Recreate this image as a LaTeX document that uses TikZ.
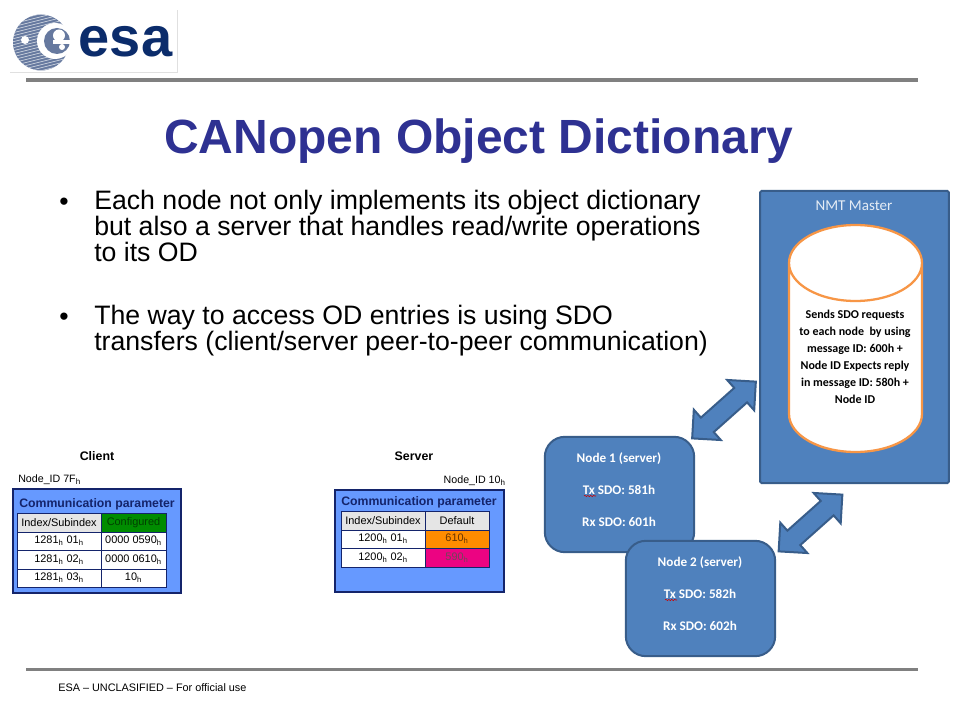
\documentclass[tikz,border=0pt]{standalone}
\usepackage{fontspec}
\setmainfont{Liberation Sans}
\newfontfamily\calfont{Carlito}
\usepackage{tikz}
\usetikzlibrary{shapes.geometric, shapes.arrows, decorations.pathmorphing}
\definecolor{ruleGray}{HTML}{808080}
\definecolor{titleBlue}{HTML}{2E3192}
\definecolor{boxBlue}{HTML}{4F81BD}
\definecolor{boxEdge}{HTML}{385D8A}
\definecolor{drumEdge}{HTML}{F79646}
\definecolor{panelBlue}{HTML}{6699FF}
\definecolor{panelNavy}{HTML}{14246B}
\definecolor{logoNavy}{HTML}{0B2C6B}
\definecolor{logoGray}{HTML}{66799F}
\newcommand{\hs}{\textsubscript{h}}
\tikzstyle{rulebar} = [draw=none,fill=ruleGray]
\tikzstyle{bodytext} = [anchor=north west,inner sep=0pt,align=left,font=\fontsize{20}{19.5}\selectfont]
\tikzstyle{srvbox} = [draw=boxEdge,line width=1.5pt,fill=boxBlue,rounded corners=15pt,minimum width=112pt,minimum height=86.5pt]
\tikzstyle{srvtext} = [align=center,text=white,font=\calfont\bfseries\fontsize{9.9}{24}\selectfont]
\tikzstyle{dblarrow} = [draw=boxEdge,line width=1.5pt,fill=boxBlue,shape=double arrow,rotate=41.7,minimum height=64pt,minimum width=29pt,double arrow head extend=8pt,inner xsep=0pt,inner ysep=6.5pt]
\tikzstyle{panel} = [draw=panelNavy,line width=0.8pt,fill=panelBlue]
\tikzstyle{cell} = [draw=panelNavy,line width=0.7pt,fill=white]
\tikzstyle{celltext} = [font=\fontsize{8.2}{9}\selectfont,inner sep=0pt]
\tikzstyle{squiggle} = [draw=red!80!black,line width=0.4pt,decorate,decoration={snake,amplitude=0.5pt,segment length=2.2pt}]

\begin{document}
\begin{tikzpicture}[x=0.75pt,y=-0.75pt]
\useasboundingbox (0,0) rectangle (960,720);

% --- Logo ---
\draw[black!12,line width=0.5pt] (10,72) -- (177,72) -- (177,10);
\begin{scope}
\clip (41,42.5) circle (28);
\fill[logoGray] (10,10) rectangle (75,75);
\foreach \i in {0,3,...,96} {
  \draw[white!70!logoGray,line width=0.5pt] (0,\i) -- (80,\i-20);
}
\end{scope}
\fill[white] (55,41) circle (18);
\fill[white] (25,40) circle (4);
\fill[logoGray] (57,41) circle (13);
\fill[white] (59,35.5) circle (6);
\fill[white] (53,40.5) rectangle (72,44);
\fill[white] (62,47) circle (3);
\node[text=logoNavy,inner sep=0pt,font=\bfseries\fontsize{42}{44}\selectfont] (logotext) at (125.5,42) {esa};

% --- Rules and title ---
\fill[rulebar] (26,78) rectangle (918,82);
\fill[rulebar] (26,668) rectangle (918,671);
\node[text=titleBlue,font=\bfseries\fontsize{36}{38}\selectfont] (title) at (479,141) {CANopen Object Dictionary};
\node[font=\fontsize{8.15}{9}\selectfont,anchor=west,inner sep=0pt] (footer) at (58,688) {ESA -- UNCLASIFIED -- For official use};

% --- Bullets ---
\node[bodytext] (bul1) at (59,198) {•};
\node[bodytext] (txt1) at (94,190) {Each node not only implements its object dictionary\\but also a server that handles read/write operations\\to its OD};
\node[bodytext] (bul2) at (59,313) {•};
\node[bodytext] (txt2) at (94,305) {The way to access OD entries is using SDO\\transfers (client/server peer-to-peer communication)};

% --- Client ---
\node[font=\bfseries\fontsize{9.3}{10}\selectfont] (clienttitle) at (97,456) {Client};
\node[font=\fontsize{8}{10}\selectfont,anchor=west,inner sep=0pt] (clientid) at (18,480) {Node\_ID 7F\hs};
\draw[panel] (13,489) rectangle (181,593);
\node[text=panelNavy,font=\bfseries\fontsize{9.2}{10}\selectfont] (clienthead) at (97,504) {Communication parameter};
\draw[cell,fill=black!10] (17,513) rectangle (101,532);
\draw[cell,fill=green!55!black] (101,513) rectangle (166,532);
\node[celltext] (cl0a) at (59,522.5) {Index/Subindex};
\node[celltext,text=green!25!black] (cl0b) at (133.5,522.5) {Configured};
\foreach \i/\ya/\yb/\idx/\val in {1/532/550/1281\hs{} 01\hs/0000 0590\hs,2/550/569/1281\hs{} 02\hs/0000 0610\hs,3/569/587/1281\hs{} 03\hs/10\hs} {
  \draw[cell] (17,\ya) rectangle (101,\yb);
  \draw[cell] (101,\ya) rectangle (166,\yb);
  \node[celltext] (cl\i a) at (59,\ya/2+\yb/2) {\idx};
  \node[celltext] (cl\i b) at (133.5,\ya/2+\yb/2) {\val};
}

% --- Server ---
\node[font=\bfseries\fontsize{9.3}{10}\selectfont] (servertitle) at (414,456) {Server};
\node[font=\fontsize{8}{10}\selectfont,anchor=east,inner sep=0pt] (serverid) at (506,481) {Node\_ID 10\hs};
\draw[panel] (335,490) rectangle (504,592);
\node[text=panelNavy,font=\bfseries\fontsize{9.2}{10}\selectfont] (serverhead) at (419,502) {Communication parameter};
\draw[cell,fill=black!10] (341,511) rectangle (425,530);
\draw[cell,fill=black!10] (425,511) rectangle (489,530);
\node[celltext] (sv0a) at (383,520.5) {Index/Subindex};
\node[celltext] (sv0b) at (457,520.5) {Default};
\foreach \i/\ya/\yb/\idx/\val/\col/\txt in {1/530/548/1200\hs{} 01\hs/610\hs/orange!90!yellow/orange!40!black,2/548/567/1200\hs{} 02\hs/590\hs/magenta!90!red/magenta!35!black} {
  \draw[cell] (341,\ya) rectangle (425,\yb);
  \draw[cell,fill=\col] (425,\ya) rectangle (489,\yb);
  \node[celltext] (sv\i a) at (383,\ya/2+\yb/2) {\idx};
  \node[celltext,text=\txt] (sv\i b) at (457,\ya/2+\yb/2) {\val};
}

% --- NMT master ---
\node[draw=boxEdge,line width=1.5pt,fill=boxBlue,rounded corners=1pt,minimum width=141.5pt,minimum height=219pt,inner sep=0pt] (master) at (854.5,337) {};
\node[text=white!85!boxBlue,font=\calfont\fontsize{11.3}{12}\selectfont] (mastertitle) at (854,206) {NMT Master};
\draw[draw=drumEdge,line width=1.7pt,fill=white] (789,263) -- (789,414) arc[start angle=180,end angle=0,x radius=66.5,y radius=38] -- (922,263) arc[start angle=0,end angle=-180,x radius=66.5,y radius=38] arc[start angle=180,end angle=0,x radius=66.5,y radius=38];
\node[align=center,font=\calfont\bfseries\fontsize{9}{12.7}\selectfont] (drumtext) at (855,357) {Sends SDO requests\\to each node\ \ by using\\message ID: 600h +\\Node ID Expects reply\\in message ID: 580h +\\Node ID};

% --- Servers ---
\node[srvbox] (node1) at (619.5,494.5) {};
\node[srvtext] (node1text) at (619,490) {Node 1 (server)\\Tx SDO: 581h\\Rx SDO: 601h};
\draw[squiggle] (584,496) -- (596,496);
\node[srvbox] (node2) at (700.5,598.5) {};
\node[srvtext] (node2text) at (700,594) {Node 2 (server)\\Tx SDO: 582h\\Rx SDO: 602h};
\draw[squiggle] (665,600) -- (677,600);

% --- Arrows ---
\node[dblarrow] (arrow1) at (724,410) {};
\node[dblarrow] (arrow2) at (810.5,523) {};

\end{tikzpicture}
\end{document}
